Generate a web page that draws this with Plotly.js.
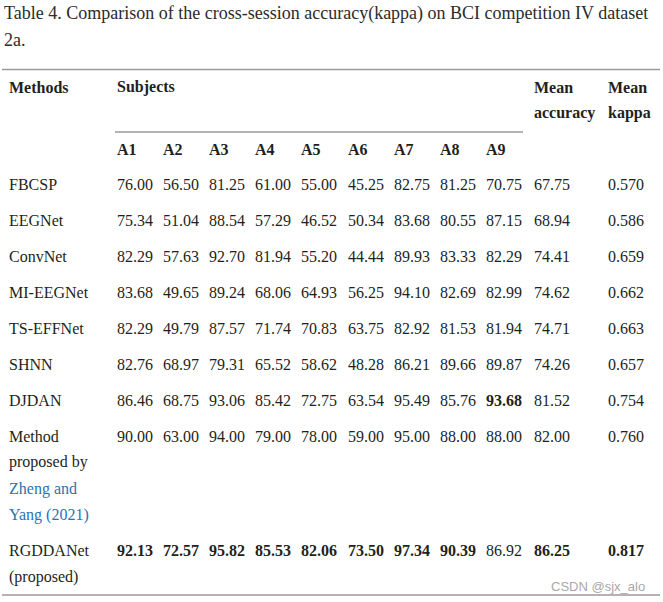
<!DOCTYPE html>
<html>
<head>
<meta charset="utf-8">
<script src="https://cdn.plot.ly/plotly-3.0.1.min.js"></script>
<style>html,body{margin:0;padding:0;background:#fff;}#chart{width:663px;height:602px;}</style>
</head>
<body>
<div id="chart"></div>
<script>
// ---------------- data ----------------
const titleLines = ["Table 4. Comparison of the cross-session accuracy(kappa) on BCI competition IV dataset", "2a."];
const headerMethods = "Methods";
const headerSubjects = "Subjects";
const headerMeanAcc = ["Mean", "accuracy"];
const headerMeanKappa = ["Mean", "kappa"];
const subjects = ["A1", "A2", "A3", "A4", "A5", "A6", "A7", "A8", "A9"];

const methods = [
  ["FBCSP"],
  ["EEGNet"],
  ["ConvNet"],
  ["MI-EEGNet"],
  ["TS-EFFNet"],
  ["SHNN"],
  ["DJDAN"],
  ["Method", "proposed by", "Zheng and", "Yang (2021)"],
  ["RGDDANet", "(proposed)"]
];
// lines of the method name that are a citation link
const linkLines = [[], [], [], [], [], [], [], [2, 3], []];

const subjectAcc = [
  [76.00, 56.50, 81.25, 61.00, 55.00, 45.25, 82.75, 81.25, 70.75],
  [75.34, 51.04, 88.54, 57.29, 46.52, 50.34, 83.68, 80.55, 87.15],
  [82.29, 57.63, 92.70, 81.94, 55.20, 44.44, 89.93, 83.33, 82.29],
  [83.68, 49.65, 89.24, 68.06, 64.93, 56.25, 94.10, 82.69, 82.99],
  [82.29, 49.79, 87.57, 71.74, 70.83, 63.75, 82.92, 81.53, 81.94],
  [82.76, 68.97, 79.31, 65.52, 58.62, 48.28, 86.21, 89.66, 89.87],
  [86.46, 68.75, 93.06, 85.42, 72.75, 63.54, 95.49, 85.76, 93.68],
  [90.00, 63.00, 94.00, 79.00, 78.00, 59.00, 95.00, 88.00, 88.00],
  [92.13, 72.57, 95.82, 85.53, 82.06, 73.50, 97.34, 90.39, 86.92]
];
const meanAccuracy = [67.75, 68.94, 74.41, 74.62, 74.71, 74.26, 81.52, 82.00, 86.25];
const meanKappa = [0.570, 0.586, 0.659, 0.662, 0.663, 0.657, 0.754, 0.760, 0.817];

// best results per column (column index: 0-8 subjects, 9 mean acc, 10 kappa), by row
const bestCells = [[], [], [], [], [], [], [8], [], [0, 1, 2, 3, 4, 5, 6, 7, 9, 10]];

const watermark = "CSDN @sjx_alo";

// ---------------- layout / styling ----------------
const W = 663, H = 602;
const FONT = "'Liberation Serif', 'DejaVu Serif', serif";
const TXT = "#231f20";
const LINK = "#2a72b5";
const RULE = "#9a9a9a";
const BODY = 16;

const methodX = 8;
const subjX0 = 116, subjDX = 46.1;
const meanAccX = 533, kappaX = 607;
const colX = subjects.map((_, i) => subjX0 + i * subjDX).concat([meanAccX, kappaX]);

const annotations = [];
function addText(x, y, text, opts) {
  opts = opts || {};
  annotations.push({
    x: x, y: y, xref: 'x', yref: 'y',
    text: opts.bold ? '<b>' + text + '</b>' : text,
    showarrow: false, xanchor: 'left', yanchor: 'middle',
    align: 'left',
    font: {family: opts.family || FONT, size: opts.size || BODY, color: opts.color || TXT},
    borderpad: 0
  });
}

// title
const titleY = [13, 40];
titleLines.forEach((t, i) => addText(3, titleY[i], t, {size: 18, color: "#2b2b2b"}));

// header
const hY1 = 87, hY2 = 113, subY = 149;
addText(methodX, hY1, headerMethods, {bold: true});
addText(subjX0, hY1, headerSubjects, {bold: true});
addText(meanAccX, hY1, headerMeanAcc[0], {bold: true});
addText(meanAccX, hY2, headerMeanAcc[1], {bold: true});
addText(kappaX, hY1, headerMeanKappa[0], {bold: true});
addText(kappaX, hY2, headerMeanKappa[1], {bold: true});
subjects.forEach((s, i) => addText(colX[i], subY, s, {bold: true}));

// body
const lineH = 26.3, rowGap = 36;
let y = 184;
methods.forEach((lines, r) => {
  lines.forEach((ln, k) => {
    const isLink = linkLines[r].indexOf(k) >= 0;
    addText(methodX, y + k * lineH, ln, {color: isLink ? LINK : TXT});
  });
  const vals = subjectAcc[r].map(v => v.toFixed(2))
    .concat([meanAccuracy[r].toFixed(2), meanKappa[r].toFixed(3)]);
  vals.forEach((v, c) => addText(colX[c], y, v, {bold: bestCells[r].indexOf(c) >= 0}));
  y += (lines.length - 1) * lineH + rowGap;
});

// watermark
annotations.push({
  x: 647, y: 586, xref: 'x', yref: 'y', text: watermark, showarrow: false,
  xanchor: 'right', yanchor: 'middle',
  font: {family: "'Liberation Sans', Arial, sans-serif", size: 13, color: "#a8a8a8"}
});

const shapes = [
  {type: 'line', xref: 'x', yref: 'y', x0: 2, x1: 660, y0: 69.5, y1: 69.5, line: {color: RULE, width: 1.5}},
  {type: 'line', xref: 'x', yref: 'y', x0: 115, x1: 523, y0: 132, y1: 132, line: {color: RULE, width: 1.5}},
  {type: 'line', xref: 'x', yref: 'y', x0: 2, x1: 660, y0: 595, y1: 595, line: {color: RULE, width: 1.5}}
];

const layout = {
  width: W, height: H,
  margin: {l: 0, r: 0, t: 0, b: 0, pad: 0},
  paper_bgcolor: '#fff', plot_bgcolor: '#fff',
  xaxis: {range: [0, W], visible: false, fixedrange: true},
  yaxis: {range: [H, 0], visible: false, fixedrange: true},
  showlegend: false,
  annotations: annotations,
  shapes: shapes
};

Plotly.newPlot('chart', [{x: [], y: [], type: 'scatter', mode: 'markers'}], layout, {staticPlot: true, displayModeBar: false});
</script>
</body>
</html>
